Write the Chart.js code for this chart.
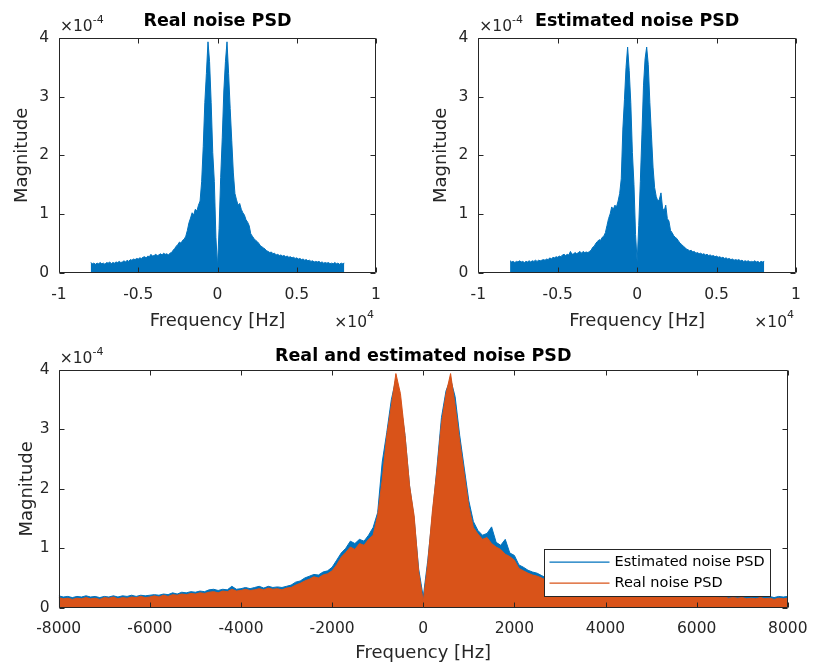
<!DOCTYPE html>
<html><head><meta charset="utf-8">
<script src="https://cdn.jsdelivr.net/npm/chart.js@4.4.1/dist/chart.umd.min.js"></script>
<style>
html,body{margin:0;padding:0;background:#fff;}
#wrap{position:relative;width:819px;height:666px;overflow:hidden;background:#fff}
canvas{position:absolute}
</style></head><body>
<div id="wrap">
<canvas id="c1" width="410" height="340" style="left:0;top:0;width:410px;height:340px"></canvas>
<canvas id="c2" width="409" height="340" style="left:410px;top:0;width:409px;height:340px"></canvas>
<canvas id="c3" width="819" height="326" style="left:0;top:340px;width:819px;height:326px"></canvas>
</div>
<script>
// ---- DATA (magnitudes in units of 1e-4) ----
const FREQ_START = -8000, FREQ_END = 8000, FREQ_STEP = 100; // Hz grid of the PSD bins
const frequencies = [];
for (let f = FREQ_START; f <= FREQ_END; f += FREQ_STEP) frequencies.push(f);

const realPSD = [
  0.17,0.15,0.16,0.14,0.16,0.15,0.17,0.15,0.16,0.14,
  0.17,0.16,0.18,0.15,0.17,0.16,0.18,0.17,0.19,0.17,
  0.18,0.20,0.18,0.21,0.19,0.22,0.21,0.23,0.22,0.24,
  0.23,0.25,0.24,0.26,0.27,0.25,0.28,0.27,0.31,0.28,
  0.29,0.31,0.29,0.30,0.32,0.30,0.33,0.31,0.32,0.30,
  0.33,0.34,0.38,0.41,0.45,0.48,0.52,0.50,0.55,0.57,
  0.62,0.72,0.85,0.93,1.02,0.98,1.08,1.05,1.15,1.22,
  1.55,2.15,2.90,3.40,3.94,3.60,2.90,2.05,1.55,0.60,
  0.10,0.75,1.62,2.30,3.10,3.60,3.94,3.40,2.80,2.25,
  1.70,1.35,1.24,1.15,1.18,1.08,1.02,0.98,0.90,0.86,
  0.80,0.66,0.62,0.58,0.55,0.53,0.50,0.46,0.44,0.42,
  0.40,0.37,0.36,0.34,0.35,0.32,0.33,0.30,0.31,0.29,
  0.30,0.28,0.29,0.27,0.28,0.26,0.27,0.25,0.26,0.24,
  0.25,0.23,0.24,0.22,0.23,0.21,0.22,0.20,0.21,0.19,
  0.20,0.18,0.19,0.18,0.19,0.17,0.18,0.16,0.17,0.16,
  0.17,0.15,0.16,0.15,0.17,0.15,0.16,0.14,0.16,0.15,
  0.16
];
const estimatedPSD = [
  0.20,0.18,0.19,0.17,0.19,0.18,0.20,0.18,0.19,0.17,
  0.19,0.18,0.20,0.18,0.20,0.19,0.21,0.19,0.21,0.20,
  0.21,0.22,0.21,0.23,0.22,0.25,0.23,0.26,0.25,0.27,
  0.26,0.28,0.27,0.30,0.31,0.29,0.31,0.30,0.36,0.31,
  0.32,0.34,0.32,0.34,0.36,0.33,0.36,0.34,0.35,0.34,
  0.36,0.38,0.43,0.45,0.50,0.53,0.56,0.55,0.60,0.62,
  0.68,0.80,0.92,1.00,1.12,1.08,1.15,1.12,1.22,1.35,
  1.60,2.45,2.95,3.50,3.85,3.45,2.90,2.05,1.50,0.65,
  0.18,0.80,1.55,2.35,3.20,3.65,3.85,3.55,2.90,2.35,
  1.80,1.45,1.30,1.22,1.25,1.36,1.10,1.05,1.15,0.92,
  0.88,0.72,0.68,0.63,0.60,0.58,0.54,0.50,0.48,0.45,
  0.43,0.40,0.39,0.37,0.38,0.35,0.36,0.33,0.34,0.32,
  0.33,0.31,0.32,0.30,0.31,0.29,0.30,0.28,0.29,0.27,
  0.28,0.26,0.27,0.25,0.26,0.24,0.25,0.23,0.24,0.22,
  0.23,0.21,0.22,0.21,0.22,0.20,0.21,0.19,0.20,0.19,
  0.20,0.18,0.19,0.18,0.20,0.18,0.19,0.17,0.19,0.18,
  0.19
];
const topXTicks = [-10000, -5000, 0, 5000, 10000];
const topXTickLabels = ['-1', '-0.5', '0', '0.5', '1'];
const bottomXTicks = [-8000, -6000, -4000, -2000, 0, 2000, 4000, 6000, 8000];
const bottomXTickLabels = ['-8000', '-6000', '-4000', '-2000', '0', '2000', '4000', '6000', '8000'];
const yTicks = [0, 1, 2, 3, 4];
const yTickLabels = ['0', '1', '2', '3', '4'];

// ---- STYLE ----
const BLUE = '#0072BD', ORANGE = '#D95319', INK = '#262626';
const FONT = "'DejaVu Sans', 'Liberation Sans', sans-serif";
Chart.defaults.font.family = FONT;

const toPoints = arr => frequencies.map((f, i) => ({x: f, y: arr[i]}));

function boxPlugin(cfg) {
  return {
    id: 'matlabBox',
    afterDraw(chart) {
      const ctx = chart.ctx, a = chart.chartArea;
      ctx.save();
      ctx.strokeStyle = INK; ctx.lineWidth = 1;
      const L = Math.round(a.left) + 0.5, R = Math.round(a.right) - 0.5;
      const T = Math.round(a.top) + 0.5, B = Math.round(a.bottom) - 0.5;
      const TL = 5;
      ctx.beginPath();
      ctx.rect(L, T, R - L, B - T);
      const xs = chart.scales.x, ys = chart.scales.y;
      xs.ticks.forEach(t => {
        const px = Math.round(xs.getPixelForValue(t.value)) + 0.5;
        ctx.moveTo(px, B); ctx.lineTo(px, B - TL);
        ctx.moveTo(px, T); ctx.lineTo(px, T + TL);
      });
      ys.ticks.forEach(t => {
        const py = Math.round(ys.getPixelForValue(t.value)) + 0.5;
        ctx.moveTo(L, py); ctx.lineTo(L + TL, py);
        ctx.moveTo(R, py); ctx.lineTo(R - TL, py);
      });
      ctx.stroke();

      // title
      ctx.fillStyle = '#000';
      ctx.font = 'bold 17.5px ' + FONT;
      ctx.textAlign = 'center'; ctx.textBaseline = 'middle';
      ctx.fillText(cfg.title, (a.left + a.right) / 2, cfg.titleY);

      // y exponent  x10^-4
      ctx.fillStyle = INK;
      ctx.textAlign = 'left';
      ctx.font = '15.5px ' + FONT;
      const base = '\u00d710';
      const wb = ctx.measureText(base).width;
      ctx.fillText(base, a.left + 1, a.top - 11);
      ctx.font = '11px ' + FONT;
      ctx.fillText('-4', a.left + 1 + wb, a.top - 18);

      // x exponent  x10^4
      if (cfg.xExp) {
        ctx.font = '15.5px ' + FONT;
        const w1 = ctx.measureText(base).width;
        ctx.font = '11px ' + FONT;
        const w2 = ctx.measureText('4').width;
        const x0 = a.right - 2 - w1 - w2;
        ctx.font = '15.5px ' + FONT;
        ctx.fillText(base, x0, a.bottom + 50.5);
        ctx.font = '11px ' + FONT;
        ctx.fillText('4', x0 + w1, a.bottom + 42.5);
      }

      // legend
      if (cfg.legend) {
        const bw = 226, bh = 47;
        const bx = Math.round(a.right - 17.7 - bw) + 0.5, by = Math.round(a.bottom - 11.7 - bh) + 0.5;
        ctx.fillStyle = '#fff';
        ctx.fillRect(bx, by, bw, bh);
        ctx.strokeStyle = INK; ctx.lineWidth = 1;
        ctx.strokeRect(bx, by, bw, bh);
        const ds = chart.data.datasets;
        ctx.font = '14.5px ' + FONT;
        ctx.textBaseline = 'middle'; ctx.textAlign = 'left';
        ds.forEach((d, i) => {
          const yy = by + 12.7 + i * 21;
          ctx.strokeStyle = d.borderColor; ctx.lineWidth = 1.2;
          ctx.beginPath(); ctx.moveTo(bx + 5, yy); ctx.lineTo(bx + 65, yy); ctx.stroke();
          ctx.fillStyle = '#000';
          ctx.fillText(d.label, bx + 70, yy);
        });
      }
      ctx.restore();
    }
  };
}

function makeChart(id, o) {
  return new Chart(document.getElementById(id), {
    type: 'line',
    data: {datasets: o.datasets},
    options: {
      responsive: false, animation: false, devicePixelRatio: 1, events: [],
      parsing: false, normalized: true,
      layout: {padding: {left: 0, top: o.padTop, right: o.padRight, bottom: 0}},
      plugins: {legend: {display: false}, tooltip: {enabled: false}, title: {display: false}},
      elements: {point: {radius: 0}, line: {tension: 0}},
      scales: {
        x: {
          type: 'linear', min: o.xTicks[0], max: o.xTicks[o.xTicks.length - 1],
          afterBuildTicks: s => { s.ticks = o.xTicks.map(v => ({value: v})); },
          ticks: {
            callback: v => o.xLabels[o.xTicks.indexOf(v)],
            color: INK, font: {family: FONT, size: 15.5}, padding: o.xTickPad,
            maxRotation: 0, autoSkip: false
          },
          grid: {display: false, drawTicks: false}, border: {display: false},
          title: {display: true, text: 'Frequency [Hz]', color: INK,
                  font: {family: FONT, size: 18}, padding: {top: 0, bottom: o.xTitlePad}},
          afterFit: s => { s.height = o.xAxisH; }
        },
        y: {
          type: 'linear', min: 0, max: 4,
          afterBuildTicks: s => { s.ticks = yTicks.map(v => ({value: v})); },
          ticks: {
            callback: v => yTickLabels[yTicks.indexOf(v)],
            color: INK, font: {family: FONT, size: 15.5}, padding: o.yTickPad
          },
          grid: {display: false, drawTicks: false}, border: {display: false},
          title: {display: true, text: 'Magnitude', color: INK,
                  font: {family: FONT, size: 18}, padding: {top: o.yTitlePad, bottom: 0}},
          afterFit: s => { s.width = o.yAxisW; }
        }
      }
    },
    plugins: [boxPlugin(o)]
  });
}

const dsStyle = c => ({borderColor: c, backgroundColor: c, borderWidth: 1, fill: 'origin', pointRadius: 0});

makeChart('c1', {
  datasets: [Object.assign({label: 'Real noise PSD', data: toPoints(realPSD)}, dsStyle(BLUE))],
  xTicks: topXTicks, xLabels: topXTickLabels,
  padTop: 38.3, padRight: 34, yAxisW: 59, xAxisH: 67.5,
  xTickPad: 12.7, yTickPad: 10, xTitlePad: 8.2, yTitlePad: 11.7,
  title: 'Real noise PSD', titleY: 21, xExp: true
});
makeChart('c2', {
  datasets: [Object.assign({label: 'Estimated noise PSD', data: toPoints(estimatedPSD)}, dsStyle(BLUE))],
  xTicks: topXTicks, xLabels: topXTickLabels,
  padTop: 38.3, padRight: 23, yAxisW: 68.3, xAxisH: 67.5,
  xTickPad: 12.7, yTickPad: 10, xTitlePad: 8.2, yTitlePad: 20.7,
  title: 'Estimated noise PSD', titleY: 21, xExp: true
});
makeChart('c3', {
  datasets: [
    Object.assign({label: 'Estimated noise PSD', data: toPoints(estimatedPSD), order: 1}, dsStyle(BLUE)),
    Object.assign({label: 'Real noise PSD', data: toPoints(realPSD), order: 0}, dsStyle(ORANGE))
  ],
  xTicks: bottomXTicks, xLabels: bottomXTickLabels,
  padTop: 30, padRight: 22.3, yAxisW: 58.7, xAxisH: 58.3,
  xTickPad: 11.5, yTickPad: 9, xTitlePad: 2.2, yTitlePad: 16.7,
  title: 'Real and estimated noise PSD', titleY: 16, xExp: false, legend: true
});
</script>
</body></html>
